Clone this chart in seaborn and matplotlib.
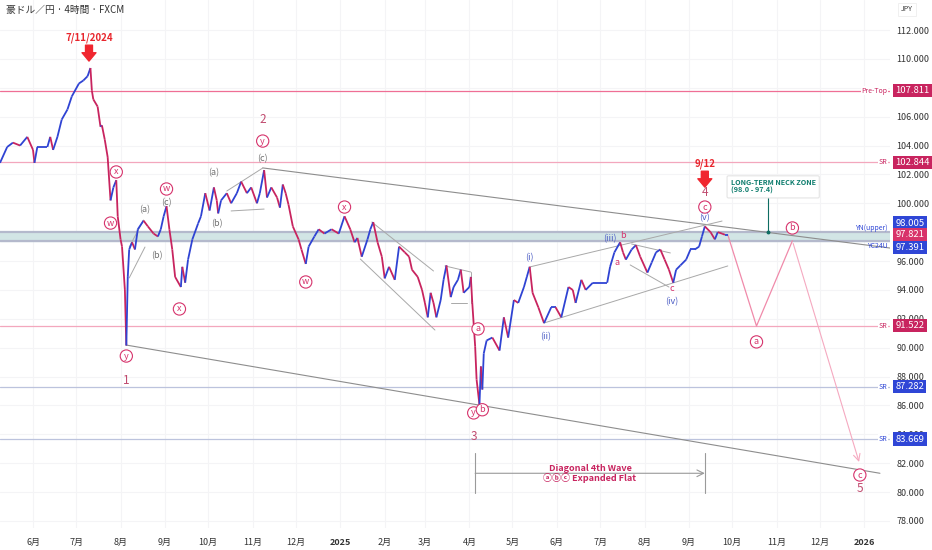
import pandas as pd
import numpy as np
import matplotlib
matplotlib.use("Agg")
import matplotlib.pyplot as plt
import matplotlib.dates as mdates
import matplotlib.transforms as mtransforms
from matplotlib.collections import LineCollection
import seaborn as sns

# price path (date, AUD/JPY)
price_dates = [
    "2024-05-09", "2024-05-14", "2024-05-18", "2024-05-23", "2024-05-28", "2024-06-01",
    "2024-06-02", "2024-06-04", "2024-06-11", "2024-06-13", "2024-06-15", "2024-06-18",
    "2024-06-21", "2024-06-25", "2024-06-28", "2024-07-03", "2024-07-06", "2024-07-09",
    "2024-07-11", "2024-07-12", "2024-07-13", "2024-07-16", "2024-07-18", "2024-07-19",
    "2024-07-21", "2024-07-23", "2024-07-25", "2024-07-27", "2024-07-29", "2024-07-30",
    "2024-08-01", "2024-08-02", "2024-08-04", "2024-08-05", "2024-08-06", "2024-08-07",
    "2024-08-09", "2024-08-11", "2024-08-13", "2024-08-17", "2024-08-20", "2024-08-24",
    "2024-08-27", "2024-08-29", "2024-08-31", "2024-09-02", "2024-09-04", "2024-09-06",
    "2024-09-08", "2024-09-12", "2024-09-13", "2024-09-15", "2024-09-17", "2024-09-20",
    "2024-09-24", "2024-09-26", "2024-09-29", "2024-10-02", "2024-10-05", "2024-10-07",
    "2024-10-08", "2024-10-10", "2024-10-14", "2024-10-17", "2024-10-21", "2024-10-24",
    "2024-10-28", "2024-10-31", "2024-11-04", "2024-11-06", "2024-11-09", "2024-11-11",
    "2024-11-14", "2024-11-18", "2024-11-20", "2024-11-22", "2024-11-24", "2024-11-26",
    "2024-11-29", "2024-12-03", "2024-12-05", "2024-12-08", "2024-12-10", "2024-12-14",
    "2024-12-17", "2024-12-21", "2024-12-26", "2024-12-31", "2025-01-04", "2025-01-08",
    "2025-01-11", "2025-01-13", "2025-01-16", "2025-01-20", "2025-01-22", "2025-01-24",
    "2025-01-27", "2025-01-30", "2025-02-01", "2025-02-04", "2025-02-08", "2025-02-11",
    "2025-02-15", "2025-02-18", "2025-02-20", "2025-02-24", "2025-02-27", "2025-03-01",
    "2025-03-03", "2025-03-05", "2025-03-07", "2025-03-09", "2025-03-12", "2025-03-14",
    "2025-03-16", "2025-03-19", "2025-03-21", "2025-03-24", "2025-03-26", "2025-03-28",
    "2025-04-01", "2025-04-02", "2025-04-03", "2025-04-05", "2025-04-06", "2025-04-08",
    "2025-04-09", "2025-04-10", "2025-04-11", "2025-04-13", "2025-04-17", "2025-04-22",
    "2025-04-25", "2025-04-28", "2025-05-02", "2025-05-05", "2025-05-09", "2025-05-11",
    "2025-05-13", "2025-05-15", "2025-05-19", "2025-05-23", "2025-05-28", "2025-05-31",
    "2025-06-04", "2025-06-09", "2025-06-12", "2025-06-14", "2025-06-18", "2025-06-21",
    "2025-06-26", "2025-07-02", "2025-07-06", "2025-07-08", "2025-07-11", "2025-07-15",
    "2025-07-17", "2025-07-19", "2025-07-23", "2025-07-26", "2025-07-29", "2025-08-03",
    "2025-08-06", "2025-08-09", "2025-08-12", "2025-08-15", "2025-08-18", "2025-08-21",
    "2025-08-23", "2025-08-26", "2025-08-30", "2025-09-02", "2025-09-05", "2025-09-08",
    "2025-09-10", "2025-09-12", "2025-09-16", "2025-09-19", "2025-09-21", "2025-09-24",
    "2025-09-26", "2025-09-28",
]
price_values = [
    102.8, 103.9, 104.2, 104.0, 104.6, 103.7,
    102.8, 103.9, 103.9, 104.6, 103.7, 104.6,
    105.8, 106.5, 107.4, 108.3, 108.5, 108.8,
    109.37, 107.8, 107.2, 106.7, 105.3, 105.4,
    104.4, 103.2, 100.2, 101.1, 101.6, 99.1,
    97.5, 97.0, 94.0, 90.15, 94.9, 96.8,
    97.3, 96.8, 98.2, 98.8, 98.4, 97.9,
    97.7, 98.2, 99.1, 99.8, 98.2, 96.8,
    94.9, 94.2, 95.6, 94.5, 96.1, 97.5,
    98.6, 99.1, 100.7, 99.5, 101.1, 100.2,
    99.3, 100.2, 100.7, 100.0, 100.7, 101.5,
    100.7, 101.1, 100.0, 100.7, 102.3, 100.4,
    101.1, 100.4, 99.7, 101.3, 100.7, 99.9,
    98.4, 97.5, 96.8, 95.8, 97.0, 97.7,
    98.2, 97.9, 98.2, 97.9, 99.1, 98.2,
    97.3, 97.6, 96.3, 97.5, 98.2, 98.7,
    97.3, 96.3, 94.8, 95.6, 94.7, 97.0,
    96.6, 96.3, 95.4, 94.9, 94.0, 93.1,
    92.1, 93.8, 93.1, 92.1, 93.3, 94.7,
    95.7, 93.5, 94.2, 94.7, 95.4, 93.8,
    94.2, 94.9, 93.1, 90.1, 87.8, 86.05,
    88.7, 87.1, 89.6, 90.5, 90.7, 89.8,
    92.1, 90.7, 93.3, 93.1, 94.2, 94.9,
    95.6, 93.8, 92.8, 91.7, 92.8, 92.8,
    92.1, 94.2, 94.0, 93.1, 94.7, 94.0,
    94.5, 94.5, 94.5, 95.6, 96.6, 97.3,
    96.6, 96.1, 96.8, 97.1, 96.3, 95.2,
    95.9, 96.6, 96.8, 96.1, 95.4, 94.5,
    95.4, 95.7, 96.1, 96.8, 96.8, 97.0,
    97.7, 98.4, 98.0, 97.5, 98.0, 97.9,
    97.82, 97.82,
]

# horizontal levels on the price scale
level_values = [107.811, 102.844, 91.522, 87.282, 83.669]
level_tags = ["Pre-Top", "SR", "SR", "SR", "SR"]
zone_upper = 98.005
zone_lower = 97.391
last_price = 97.821

# trendlines / channels: (start date, start price, end date, end price)
main_lines = [
    ("2024-11-08", 102.45, "2026-01-19", 96.9),
    ("2024-08-05", 90.18, "2026-01-12", 81.3),
]
small_lines = [
    ("2024-08-07", 96.97, "2024-08-17", 98.84),
    ("2024-08-07", 94.83, "2024-08-18", 96.97),
    ("2024-10-14", 100.85, "2024-11-08", 102.44),
    ("2024-10-17", 99.47, "2024-11-09", 99.6),
    ("2025-01-23", 98.70, "2025-03-07", 95.31),
    ("2025-01-15", 96.14, "2025-03-08", 91.22),
    ("2025-03-15", 95.66, "2025-04-02", 95.24),
    ("2025-03-19", 93.09, "2025-03-30", 93.09),
    ("2025-04-02", 95.24, "2025-04-02", 93.09),
    ("2025-05-13", 95.59, "2025-09-24", 98.77),
    ("2025-05-23", 91.71, "2025-09-28", 95.66),
    ("2025-07-23", 97.18, "2025-08-19", 96.56),
    ("2025-07-22", 95.73, "2025-08-18", 94.20),
]

# projected path a-b-c
proj_dates = ["2025-09-28", "2025-10-18", "2025-11-12"]
proj_values = [97.82, 91.5, 97.4]
proj_end_date = "2025-12-29"
proj_end_value = 81.9

# wave labels: (text, date, price)
circled_labels = [
    ("x", "2024-07-29", 102.17), ("w", "2024-07-25", 98.63), ("y", "2024-08-05", 89.42),
    ("w", "2024-09-02", 100.99), ("x", "2024-09-11", 92.68), ("y", "2024-11-08", 104.31),
    ("w", "2024-12-08", 94.55), ("x", "2025-01-04", 99.74), ("a", "2025-04-07", 91.3),
    ("y", "2025-04-04", 85.48), ("b", "2025-04-10", 85.7), ("c", "2025-09-12", 99.74),
    ("a", "2025-10-18", 90.4), ("b", "2025-11-12", 98.29), ("c", "2025-12-29", 81.18),
]
degree_labels = [
    ("1", "2024-08-05", 87.76), ("2", "2024-11-08", 105.77), ("3", "2025-04-04", 83.82),
    ("4", "2025-09-12", 100.78), ("5", "2025-12-29", 80.28),
]
gray_labels = [
    ("(c)", "2024-11-08", 103.07), ("(a)", "2024-10-05", 102.10), ("(b)", "2024-10-07", 98.56),
    ("(a)", "2024-08-18", 99.53), ("(b)", "2024-08-26", 96.35), ("(c)", "2024-09-02", 100.02),
]
blue_labels = [
    ("(i)", "2025-05-13", 96.21), ("(ii)", "2025-05-24", 90.74), ("(iii)", "2025-07-08", 97.53),
    ("(iv)", "2025-08-20", 93.16), ("(v)", "2025-09-12", 98.98),
]
small_pink_labels = [
    ("b", "2025-07-17", 97.78), ("a", "2025-07-13", 95.93), ("c", "2025-08-20", 94.07),
]

month_ticks = pd.date_range("2024-06-01", "2026-01-01", freq="MS")
month_names = ["6月", "7月", "8月", "9月", "10月", "11月", "12月", "2025", "2月", "3月", "4月",
               "5月", "6月", "7月", "8月", "9月", "10月", "11月", "12月", "2026"]
price_ticks = [78, 80, 82, 84, 86, 88, 90, 92, 94, 96, 100, 102, 104, 106, 110, 112]

PINK = "#d6336c"
BLUE = "#2f46d6"
UP = "#2f43d3"
DOWN = "#c8245f"

sns.set_theme(style="white")
plt.rcParams["font.family"] = ["Noto Sans CJK JP", "DejaVu Sans"]

fig = plt.figure(figsize=(9.32, 5.5), dpi=100)
ax = fig.add_axes([0, 22 / 550, 890 / 932, 1 - 22 / 550])

# faint grid
for t in month_ticks:
    ax.axvline(t, color="#f4f4f6", lw=0.8, zorder=0)
for v in np.arange(78, 114, 2):
    ax.axhline(v, color="#f4f4f6", lw=0.8, zorder=0)

# neck zone band
ax.axhspan(zone_lower, zone_upper, color="#d2e5e5", zorder=1)
ax.axhline(zone_upper, color="#b4b9cc", lw=1.6, zorder=1)
ax.axhline(zone_lower, color="#b4b9cc", lw=1.6, zorder=1)

# levels
level_colors = ["#ef6f95", "#f3a7bd", "#f3a7bd", "#bcc3dd", "#bcc3dd"]
for v, c in zip(level_values, level_colors):
    ax.axhline(v, color=c, lw=0.9, zorder=1)

# trendlines
for a0, p0, a1, p1 in main_lines:
    ax.plot([pd.Timestamp(a0), pd.Timestamp(a1)], [p0, p1], color="#8d8d8d", lw=0.8, zorder=2)
for a0, p0, a1, p1 in small_lines:
    ax.plot([pd.Timestamp(a0), pd.Timestamp(a1)], [p0, p1], color="#a8a8a8", lw=0.7, zorder=2)

# price path coloured by direction
df = pd.DataFrame({"date": pd.to_datetime(price_dates), "price": price_values})
xs = mdates.date2num(df["date"])
ys = df["price"].to_numpy()
segs = [[(xs[i], ys[i]), (xs[i + 1], ys[i + 1])] for i in range(len(xs) - 1)]
cols = [UP if ys[i + 1] >= ys[i] else DOWN for i in range(len(xs) - 1)]
ax.add_collection(LineCollection(segs, colors=cols, linewidths=1.3, zorder=4))

# projection
proj = pd.DataFrame({"date": pd.to_datetime(proj_dates), "price": proj_values})
sns.lineplot(data=proj, x="date", y="price", color="#f08aaa", lw=0.9, ax=ax, zorder=3)
ax.annotate("", xy=(pd.Timestamp(proj_end_date), proj_end_value),
            xytext=(pd.Timestamp(proj_dates[-1]), proj_values[-1]),
            arrowprops=dict(arrowstyle="->", color="#f5a9c0", lw=0.8), zorder=3)

# labels
for t, dt, p in circled_labels:
    ax.text(pd.Timestamp(dt), p, t, ha="center", va="center", fontsize=6.5, color=PINK, zorder=6,
            bbox=dict(boxstyle="circle,pad=0.18", fc="white", ec=PINK, lw=0.8))
for t, dt, p in degree_labels:
    ax.text(pd.Timestamp(dt), p, t, ha="center", va="center", fontsize=8.5, color="#c04a6e", zorder=6)
for t, dt, p in gray_labels:
    ax.text(pd.Timestamp(dt), p, t, ha="center", va="center", fontsize=6.5, color="#707070", zorder=6)
for t, dt, p in blue_labels:
    ax.text(pd.Timestamp(dt), p, t, ha="center", va="center", fontsize=6.5, color="#4a5bc4", zorder=6)
for t, dt, p in small_pink_labels:
    ax.text(pd.Timestamp(dt), p, t, ha="center", va="center", fontsize=6.5, color=PINK, zorder=6)

# red date markers
for txt, dt, p in [("7/11/2024", "2024-07-10", 111.45), ("9/12", "2025-09-12", 102.72)]:
    ax.text(pd.Timestamp(dt), p, txt, ha="center", va="center", fontsize=7, color="#e8262d",
            fontweight="bold", zorder=6)
    ax.annotate("", xy=(pd.Timestamp(dt), p - 1.6), xytext=(pd.Timestamp(dt), p - 0.5),
                arrowprops=dict(arrowstyle="simple,head_width=1.0,head_length=0.6,tail_width=0.5",
                                color="#f0262f", mutation_scale=10, shrinkA=0, shrinkB=0), zorder=6)

# diagonal 4th wave bracket
b0, b1 = pd.Timestamp("2025-04-05"), pd.Timestamp("2025-09-12")
ax.plot([b0, b0], [79.94, 82.7], color="#9a9a9a", lw=0.8)
ax.plot([b1, b1], [79.94, 82.7], color="#9a9a9a", lw=0.8)
ax.annotate("", xy=(b1, 81.3), xytext=(b0, 81.3),
            arrowprops=dict(arrowstyle="->", color="#9a9a9a", lw=0.8, shrinkA=0, shrinkB=0))
ax.text(pd.Timestamp("2025-06-24"), 81.3, "Diagonal 4th Wave\nⓐⓑⓒ Expanded Flat", ha="center",
        va="center", fontsize=6.5, color="#c8245f", fontweight="bold", linespacing=1.05, zorder=6)

# neck zone callout
ax.text(pd.Timestamp("2025-09-30"), 101.15, "LONG-TERM NECK ZONE\n(98.0 - 97.4)", ha="left", va="center",
        fontsize=5.2, color="#0f7d6e", fontweight="bold", zorder=7, linespacing=1.15,
        bbox=dict(boxstyle="round,pad=0.5,rounding_size=0.2", fc="white", ec="#e4e4e4", lw=0.8))
ax.plot([pd.Timestamp("2025-10-26")] * 2, [100.45, 98.0], color="#0f6d62", lw=0.8, zorder=6)
ax.plot(pd.Timestamp("2025-10-26"), 98.0, "o", ms=1.8, color="#0f6d62", zorder=6)

# axes
ax.set_xlim(pd.Timestamp("2024-05-09"), pd.Timestamp("2026-01-19"))
ax.set_ylim(77.51, 114.08)
ax.set_xticks(month_ticks)
ax.set_xticklabels(month_names)
for lbl in ax.get_xticklabels():
    lbl.set_fontsize(6.5)
    lbl.set_color("#333333")
    if lbl.get_text() in ("2025", "2026"):
        lbl.set_fontweight("bold")
ax.yaxis.tick_right()
ax.set_yticks(price_ticks)
ax.set_yticklabels([f"{v:.3f}" for v in price_ticks], fontsize=6.5, color="#333333")
ax.tick_params(axis="x", length=0, pad=7)
ax.tick_params(axis="y", length=0, pad=4.5)
ax.set_xlabel("")
ax.set_ylabel("")
for s in ax.spines.values():
    s.set_visible(False)

# price boxes on the scale (offsets in points so stacked boxes do not overlap)
trans = mtransforms.blended_transform_factory(ax.transAxes, ax.transData)
box_vals = level_values + [zone_upper, last_price, zone_lower]
box_cols = ["#c8245f", "#c8245f", "#c8245f", "#2f46d6", "#2f46d6", "#2f46d6", "#d8336a", "#2f46d6"]
box_shift = [0, 0, 0, 0, 0, 6.5, 0, -4.5]
for v, c, sh in zip(box_vals, box_cols, box_shift):
    ax.annotate(f"{v:.3f}", xy=(1.0, v), xycoords=trans, xytext=(4, sh), textcoords="offset points",
                ha="left", va="center", fontsize=6.8, color="white", annotation_clip=False, zorder=10,
                bbox=dict(boxstyle="square,pad=0.22", fc=c, ec="none"))
tag_cols = ["#c8245f", "#c8245f", "#c8245f", "#2f46d6", "#2f46d6"]
for v, t, c in zip(level_values, level_tags, tag_cols):
    ax.text(0.997, v, t, transform=trans, ha="right", va="center", fontsize=5, color=c, zorder=8,
            bbox=dict(boxstyle="square,pad=0.1", fc="white", ec="none"))
ax.annotate("YN(upper)", xy=(0.997, zone_upper), xycoords=trans, xytext=(0, 3), textcoords="offset points",
            ha="right", va="center", fontsize=5, color="#2f46d6", zorder=8)
ax.annotate("YC24U", xy=(0.997, zone_lower), xycoords=trans, xytext=(0, -3.5), textcoords="offset points",
            ha="right", va="center", fontsize=5, color="#2f46d6", zorder=8)

fig.text(0.006, 0.982, "豪ドル／円 · 4時間 · FXCM", fontsize=7, color="#333333", va="center")
fig.text(0.967, 0.983, "JPY", fontsize=5, color="#333333", va="center",
         bbox=dict(boxstyle="square,pad=0.4", fc="white", ec="#eeeeee", lw=0.6))

fig.savefig("out.png", dpi=100)
